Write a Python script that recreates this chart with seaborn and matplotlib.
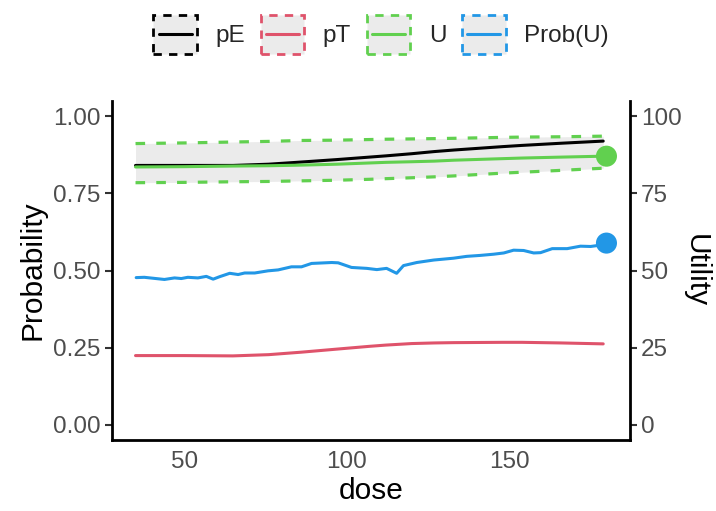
import numpy as np
import pandas as pd
import matplotlib
matplotlib.use("Agg")
import matplotlib.pyplot as plt
import seaborn as sns
from matplotlib.legend_handler import HandlerBase
from matplotlib.patches import Rectangle
from matplotlib.lines import Line2D

# ---------------- data ----------------
dose_smooth = [35, 50, 65, 76, 86, 97, 107, 112, 120, 127, 133, 148, 154, 166, 179]
pE = [0.841, 0.841, 0.841, 0.845, 0.852, 0.860, 0.868, 0.872, 0.879, 0.886, 0.891,
      0.902, 0.906, 0.913, 0.920]
pT = [0.224, 0.224, 0.223, 0.227, 0.235, 0.245, 0.254, 0.258, 0.263, 0.265, 0.266,
      0.267, 0.267, 0.265, 0.262]
U_mid = [83.6, 83.7, 83.9, 84.0, 84.2, 84.5, 84.9, 85.1, 85.3, 85.5, 85.8, 86.3,
         86.5, 86.8, 87.1]
U_hi = [91.2, 91.4, 91.7, 91.9, 92.2, 92.3, 92.5, 92.6, 92.7, 92.8, 92.9, 93.2,
        93.3, 93.4, 93.6]
U_lo = [78.5, 78.6, 78.8, 78.9, 79.1, 79.3, 79.6, 79.8, 80.1, 80.4, 80.7, 81.6,
        81.9, 82.5, 83.2]

dose_prob = [35.2, 37.7, 43.9, 47.0, 49.1, 51.1, 54.2, 56.8, 58.9, 60.9, 64.0, 66.6,
             68.6, 71.7, 75.8, 78.9, 83.0, 86.1, 89.2, 95.4, 97.4, 101.5, 104.6,
             106.2, 109.3, 112.3, 115.4, 117.5, 121.6, 126.8, 132.9, 137.0, 141.1,
             145.3, 148.4, 151.4, 154.5, 157.6, 159.7, 163.3, 167.9, 172.0, 175.1,
             177.2, 179.0]
prob_U = [0.477, 0.478, 0.471, 0.476, 0.474, 0.478, 0.476, 0.481, 0.472, 0.480,
          0.491, 0.487, 0.492, 0.492, 0.499, 0.502, 0.512, 0.512, 0.523, 0.526,
          0.525, 0.510, 0.508, 0.507, 0.503, 0.507, 0.491, 0.516, 0.526, 0.534,
          0.540, 0.546, 0.549, 0.553, 0.557, 0.566, 0.565, 0.557, 0.558, 0.571,
          0.571, 0.579, 0.578, 0.581, 0.583]

best_dose = [180, 180]
best_prob = [0.589]
best_util = [87.1]

series_names = ["pE", "pT", "U", "Prob(U)"]
colors = ["#000000", "#DF536B", "#61D04F", "#2297E6"]

# ---------------- figure ----------------
sns.set_theme(style="white")
plt.rcParams["font.family"] = ["Liberation Sans", "DejaVu Sans"]

fig = plt.figure(figsize=(7.16, 5.11), dpi=100)
ax = fig.add_axes([0.1564, 0.1389, 0.7235, 0.6634])
ax2 = ax.twinx()

df_s = pd.DataFrame({"dose": dose_smooth, "pE": pE, "pT": pT,
                     "Umid": np.array(U_mid) / 100, "Uhi": np.array(U_hi) / 100,
                     "Ulo": np.array(U_lo) / 100})
df_p = pd.DataFrame({"dose": dose_prob, "prob": prob_U})

ax.fill_between(df_s["dose"], df_s["Ulo"], df_s["Uhi"], color="#EBEBEB", lw=0, zorder=1)
sns.lineplot(data=df_s, x="dose", y="Uhi", ax=ax, color=colors[2], lw=2.3,
             linestyle=(0, (3, 3.5)), zorder=2)
sns.lineplot(data=df_s, x="dose", y="Ulo", ax=ax, color=colors[2], lw=2.3,
             linestyle=(0, (3, 3.5)), zorder=2)
sns.lineplot(data=df_s, x="dose", y="pE", ax=ax, color=colors[0], lw=2.2, zorder=3)
sns.lineplot(data=df_s, x="dose", y="pT", ax=ax, color=colors[1], lw=2.2, zorder=3)
sns.lineplot(data=df_s, x="dose", y="Umid", ax=ax, color=colors[2], lw=2.2, zorder=3)
sns.lineplot(data=df_p, x="dose", y="prob", ax=ax, color=colors[3], lw=2.2, zorder=3)

df_pts = pd.DataFrame({"dose": best_dose, "val": [best_util[0] / 100, best_prob[0]],
                       "grp": ["U", "P"]})
sns.scatterplot(data=df_pts, x="dose", y="val", hue="grp",
                palette={"U": colors[2], "P": colors[3]}, s=230, edgecolor="none",
                ax=ax, legend=False, zorder=4, clip_on=False)

ax.set_xlim(27.75, 187.25)
ax.set_ylim(-0.05, 1.05)
ax.set_xticks([50, 100, 150])
ax.set_yticks([0, 0.25, 0.5, 0.75, 1.0])
ax.set_yticklabels(["0.00", "0.25", "0.50", "0.75", "1.00"])
ax2.set_ylim(-5, 105)
ax2.set_yticks([0, 25, 50, 75, 100])

ax.set_xlabel("dose", fontsize=21.5, color="black", labelpad=3)
ax.set_ylabel("Probability", fontsize=21.5, color="black", labelpad=5)
ax2.set_ylabel("Utility", fontsize=21.5, color="black", rotation=270, labelpad=20)

for a in (ax, ax2):
    a.tick_params(axis="both", labelsize=17.5, labelcolor="#4D4D4D", color="#333333",
                  length=5, width=1.5, direction="out")
    for s in a.spines.values():
        s.set_visible(False)
    a.grid(False)
    a.set_facecolor("none")
ax.spines["left"].set_visible(True)
ax.spines["bottom"].set_visible(True)
ax2.spines["right"].set_visible(True)
for s in (ax.spines["left"], ax.spines["bottom"], ax2.spines["right"]):
    s.set_linewidth(2.0)
    s.set_color("black")
ax.tick_params(axis="x", pad=3)
ax.tick_params(axis="y", pad=3)
ax2.tick_params(axis="y", pad=3, left=False)


# ---------------- legend ----------------
class BoxLineHandler(HandlerBase):
    def create_artists(self, legend, orig_handle, xdescent, ydescent, width, height,
                       fontsize, trans):
        col = orig_handle.get_color()
        r = Rectangle((-xdescent, -ydescent), width, height, facecolor="#EBEBEB",
                      edgecolor=col, linestyle=(0, (3, 2.6)), linewidth=2.0,
                      transform=trans)
        pad = width * 0.12
        l = Line2D([-xdescent + pad, -xdescent + width - pad],
                   [-ydescent + height / 2] * 2, color=col, lw=2.2, transform=trans)
        return [r, l]


handles = [Line2D([], [], color=c) for c in colors]
leg = fig.legend(handles, series_names, loc="center", bbox_to_anchor=(0.532, 0.933),
                 ncol=4, frameon=False, fontsize=17.5,
                 handler_map={Line2D: BoxLineHandler()},
                 handlelength=1.8, handleheight=2.1, handletextpad=0.75,
                 columnspacing=0.65)

fig.savefig("out.png", dpi=100)
